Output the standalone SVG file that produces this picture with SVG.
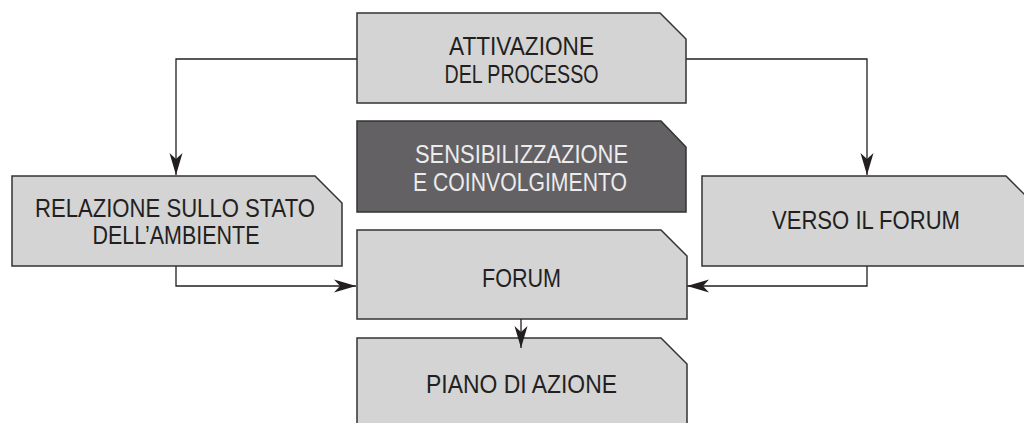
<svg xmlns="http://www.w3.org/2000/svg" width="1024" height="423" viewBox="0 0 1024 423">
  <style>
    .box { fill: #d4d4d4; stroke: #333333; stroke-width: 1.5; }
    .dark { fill: #636164; stroke: #333333; stroke-width: 1.5; }
    .lbl { font-family: "Liberation Sans", Arial, sans-serif; font-size: 25px; fill: #231f20; text-anchor: middle; }
    .lbl-light { fill: #ececec; }
    .conn { fill: none; stroke: #231f20; stroke-width: 1.3; }
  </style>
  <defs>
    <marker id="arr" markerUnits="userSpaceOnUse" markerWidth="24" markerHeight="16" refX="22" refY="7" orient="auto" viewBox="0 0 24 16">
      <path d="M22,7 L0,0.5 L6,7 L0,13.5 Z" fill="#231f20"/>
    </marker>
  </defs>
  <rect width="1024" height="423" fill="#ffffff"/>

  <g id="connectors">
    <path class="conn" d="M357,59 H176 V175" marker-end="url(#arr)"/>
    <path class="conn" d="M686,59 H867 V175" marker-end="url(#arr)"/>
    <path class="conn" d="M176,266 V286 H356" marker-end="url(#arr)"/>
    <path class="conn" d="M867,266 V286 H687" marker-end="url(#arr)"/>
  </g>

  <g id="node-attivazione">
    <path class="box" d="M357,13 H660 L686,39 V103 H357 Z"/>
    <text class="lbl" x="521.5" y="55" textLength="145" lengthAdjust="spacingAndGlyphs">ATTIVAZIONE</text>
    <text class="lbl" x="521.5" y="83" textLength="154" lengthAdjust="spacingAndGlyphs">DEL PROCESSO</text>
  </g>

  <g id="node-sensibilizzazione">
    <path class="dark" d="M357,121 H661 L686,147 V212 H357 Z"/>
    <text class="lbl lbl-light" x="521.5" y="163" textLength="213" lengthAdjust="spacingAndGlyphs">SENSIBILIZZAZIONE</text>
    <text class="lbl lbl-light" x="520" y="191" textLength="214" lengthAdjust="spacingAndGlyphs">E COINVOLGIMENTO</text>
  </g>

  <g id="node-relazione">
    <path class="box" d="M12,176 H315 L342,203 V266 H12 Z"/>
    <text class="lbl" x="175" y="217" textLength="280" lengthAdjust="spacingAndGlyphs">RELAZIONE SULLO STATO</text>
    <text class="lbl" x="176" y="244" textLength="167" lengthAdjust="spacingAndGlyphs">DELL’AMBIENTE</text>
  </g>

  <g id="node-verso">
    <path class="box" d="M702,176 H1006 L1033,203 V266 H702 Z"/>
    <text class="lbl" x="866" y="229" textLength="188" lengthAdjust="spacingAndGlyphs">VERSO IL FORUM</text>
  </g>

  <g id="node-forum">
    <path class="box" d="M357,230 H661 L687,256 V319 H357 Z"/>
    <text class="lbl" x="521.5" y="287" textLength="79" lengthAdjust="spacingAndGlyphs">FORUM</text>
  </g>

  <g id="node-piano">
    <path class="box" d="M357,338 H661 L687,364 V440 H357 Z"/>
    <text class="lbl" x="521.5" y="393" textLength="191" lengthAdjust="spacingAndGlyphs">PIANO DI AZIONE</text>
  </g>

  <g id="connector-forum-piano">
    <path class="conn" d="M521,319 V348" marker-end="url(#arr)"/>
  </g>
</svg>
